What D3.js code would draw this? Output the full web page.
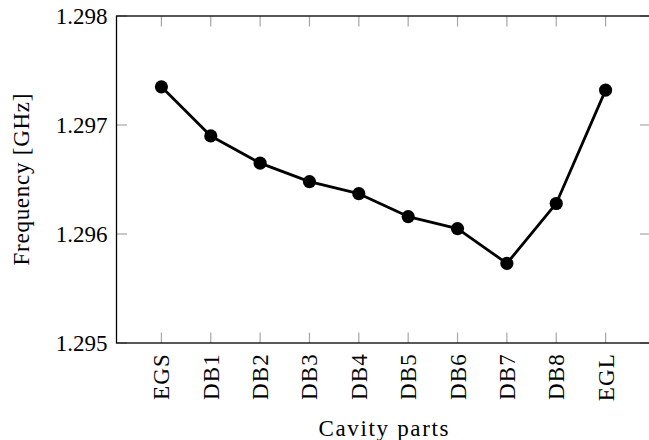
<!DOCTYPE html>
<html>
<head>
<meta charset="utf-8">
<script src="https://cdn.jsdelivr.net/npm/d3@7"></script>
<style>
  html, body { margin: 0; padding: 0; background: #fff; }
  svg text { font-family: "Liberation Serif", "Times New Roman", serif; fill: #000; }
</style>
</head>
<body>
<svg id="chart" width="649" height="440"></svg>
<script>
// Resonant frequency per cavity part
const parts = ["EGS", "DB1", "DB2", "DB3", "DB4", "DB5", "DB6", "DB7", "DB8", "EGL"];
const frequencies = [1.29735, 1.2969, 1.29665, 1.29648, 1.29637, 1.29616, 1.29605, 1.29573, 1.29628, 1.29732];
const yTicks = [1.295, 1.296, 1.297, 1.298];

const svg = d3.select("#chart");
const plotLeft = 116.5, plotRight = 650.5, plotTop = 16, plotBottom = 343;
const fontSize = 23;
const tickLen = 10.5;
const tickColor = "#a6a6a6";

const x = d3.scalePoint().domain(parts).range([plotLeft, plotRight]).padding(0.91);
const y = d3.scaleLinear().domain([1.295, 1.298]).range([plotBottom, plotTop]);

// Inward ticks on all four sides
const g = svg.append("g");
g.selectAll("line.yl").data(yTicks).join("line")
  .attr("x1", plotLeft).attr("x2", plotLeft + tickLen)
  .attr("y1", d => y(d)).attr("y2", d => y(d))
  .attr("stroke", tickColor).attr("stroke-width", 1.2);
g.selectAll("line.yr").data(yTicks).join("line")
  .attr("x1", plotRight).attr("x2", plotRight - tickLen)
  .attr("y1", d => y(d)).attr("y2", d => y(d))
  .attr("stroke", tickColor).attr("stroke-width", 1.2);
g.selectAll("line.xb").data(parts).join("line")
  .attr("x1", d => x(d)).attr("x2", d => x(d))
  .attr("y1", plotBottom).attr("y2", plotBottom - tickLen)
  .attr("stroke", tickColor).attr("stroke-width", 1.2);
g.selectAll("line.xt").data(parts).join("line")
  .attr("x1", d => x(d)).attr("x2", d => x(d))
  .attr("y1", plotTop).attr("y2", plotTop + tickLen)
  .attr("stroke", tickColor).attr("stroke-width", 1.2);

// Frame
svg.append("rect")
  .attr("x", plotLeft).attr("y", plotTop)
  .attr("width", plotRight - plotLeft).attr("height", plotBottom - plotTop)
  .attr("fill", "none").attr("stroke", "#000").attr("stroke-width", 1.3);

// Y tick labels
svg.selectAll("text.ytick").data(yTicks).join("text")
  .attr("class", "ytick")
  .attr("x", plotLeft - 9).attr("y", d => y(d) + 8)
  .attr("text-anchor", "end")
  .attr("font-size", fontSize)
  .text(d => d3.format(".3f")(d));

// X tick labels, rotated
svg.selectAll("text.xtick").data(parts).join("text")
  .attr("class", "xtick")
  .attr("transform", d => `translate(${x(d) + 8},${plotBottom + 10}) rotate(-90)`)
  .attr("text-anchor", "end")
  .attr("font-size", fontSize)
  .attr("letter-spacing", 1.2)
  .text(d => d);

// Axis titles
svg.append("text")
  .attr("transform", `translate(29,${(plotTop + plotBottom) / 2}) rotate(-90)`)
  .attr("text-anchor", "middle")
  .attr("font-size", fontSize)
  .attr("textLength", 172).attr("lengthAdjust", "spacing")
  .text("Frequency [GHz]");
svg.append("text")
  .attr("x", (plotLeft + plotRight) / 2).attr("y", 436)
  .attr("text-anchor", "middle")
  .attr("font-size", fontSize)
  .attr("textLength", 130).attr("lengthAdjust", "spacing")
  .text("Cavity parts");

// Series line and markers
const line = d3.line().x((d, i) => x(parts[i])).y(d => y(d));
svg.append("path")
  .datum(frequencies)
  .attr("d", line)
  .attr("fill", "none").attr("stroke", "#000")
  .attr("stroke-width", 2.8).attr("stroke-linejoin", "round");
svg.selectAll("circle.pt").data(frequencies).join("circle")
  .attr("class", "pt")
  .attr("cx", (d, i) => x(parts[i])).attr("cy", d => y(d))
  .attr("r", 6.6).attr("fill", "#000");
</script>
</body>
</html>
